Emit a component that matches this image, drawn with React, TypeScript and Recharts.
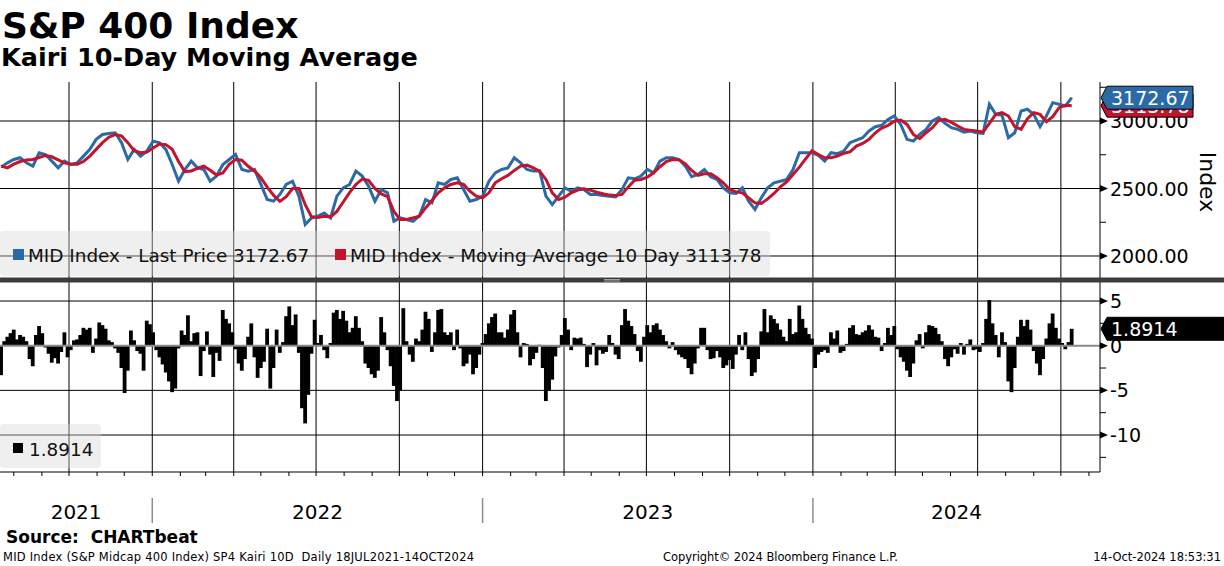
import React from 'react';
import { LineChart, Line, XAxis, YAxis, ReferenceLine, ComposedChart, Bar } from 'recharts';

// ---------- DATA (weekly closes from 18 Jul 2021, index = week number) ----------
const lastPriceWeekly: number[] = [
  2660, 2690, 2715, 2728, 2690, 2666, 2765, 2752, 2703, 2653,
  2703, 2678, 2690, 2740, 2790, 2864, 2900, 2908, 2913, 2839,
  2715, 2790, 2740, 2777, 2851, 2839, 2790, 2678, 2554, 2641,
  2703, 2653, 2641, 2554, 2592, 2678, 2715, 2752, 2641, 2629,
  2641, 2530, 2418, 2406, 2456, 2530, 2554, 2443, 2233, 2282,
  2295, 2319, 2282, 2443, 2505, 2530, 2629, 2592, 2517, 2406,
  2493, 2468, 2258,
  2282, 2270, 2257, 2295, 2418, 2394, 2542, 2530, 2567, 2579,
  2493, 2406, 2418, 2443, 2554, 2616, 2641, 2653, 2728, 2690,
  2641, 2629, 2629, 2443, 2381, 2443, 2505, 2480, 2505, 2493,
  2456, 2456, 2448, 2443, 2438, 2493, 2579, 2572, 2592, 2641,
  2616, 2703, 2728, 2728, 2715, 2666, 2587, 2604, 2641, 2587,
  2567, 2505, 2468, 2463, 2505, 2406, 2344, 2431, 2505, 2542,
  2554, 2567, 2641, 2765,
  2765, 2765, 2745, 2703, 2765, 2758, 2777, 2839, 2859, 2876,
  2926, 2958, 2968, 3012, 3037, 2975, 2864, 2851, 2901, 2938,
  3000, 3025, 2983, 2951, 2938, 2918, 2926, 2913, 2908, 3124,
  3049, 3042, 2876, 2913, 3074, 3087, 3049, 2958, 3037, 3136,
  3124, 3111, 3172.67,
];

const movingAvg10Weekly: number[] = [
  2666, 2653, 2680, 2700, 2712, 2715, 2730, 2745, 2735, 2712,
  2690, 2680, 2680, 2700, 2740, 2790, 2840, 2880, 2900, 2890,
  2840, 2780, 2765, 2770, 2800, 2830, 2825, 2790, 2700, 2625,
  2630, 2650, 2665, 2635, 2600, 2615, 2680, 2715, 2710, 2665,
  2630, 2580, 2510, 2450, 2405, 2440, 2500, 2500, 2380, 2290,
  2285, 2295, 2290, 2330, 2400, 2470, 2530, 2570, 2560, 2500,
  2460, 2440, 2330,
  2270, 2270, 2282, 2295, 2356, 2411, 2468, 2505, 2530, 2542,
  2530, 2480, 2443, 2431, 2468, 2542, 2572, 2597, 2634, 2666,
  2673, 2653, 2629, 2567, 2468, 2418, 2436, 2468, 2488, 2498,
  2488, 2473, 2461, 2451, 2448, 2456, 2512, 2562, 2567, 2584,
  2616, 2661, 2700, 2715, 2713, 2683, 2634, 2597, 2609, 2609,
  2579, 2542, 2493, 2475, 2468, 2431, 2394, 2389, 2423, 2463,
  2512, 2549, 2604, 2658,
  2720, 2780, 2752, 2728, 2728, 2740, 2760, 2772, 2814, 2834,
  2864, 2913, 2948, 2968, 2998, 3007, 2975, 2901, 2869, 2913,
  2951, 3005, 3012, 2990, 2963, 2938, 2931, 2926, 2918, 2983,
  3049, 3062, 3037, 2958, 2938, 3017, 3062, 3049, 2995, 3032,
  3099, 3116, 3113.78,
];

// Kairi 10D, sampled twice a week (index/2 = week number)
const kairiHalfWeekly: number[] = [
  -3.3, 0.5, 1.0, 1.4, 1.8, 0.7, 1.2, 1.0, 0.5, -1.5,
  -2.3, 1.2, 2.2, 1.4, -0.2, -0.9, -1.9, -1.4, -2.0, -0.7,
  1.5, -1.3, -0.5, 0.6, 0.7, 1.2, 2.0, 1.8, 2.0, -0.8,
  0.8, 2.6, 2.3, 1.9, 0.6, 0.4, -0.3, -0.8, -2.5, -5.3,
  -2.8, 1.7, 0.6, -0.6, -0.9, -2.8, 2.8, 2.4, 1.5, -0.5,
  -1.3, -2.1, -3.0, -4.0, -5.2, -4.8, -0.3, 1.7, 1.2, 3.4,
  0.5, 1.4, 1.5, -3.4, -0.6, 1.6, -1.0, -3.5, -0.8, -1.7,
  4.0, 3.0, 2.5, 1.5, -0.4, -2.0, -2.8, -1.5, 1.0, 2.5,
  -1.3, -3.6, -2.5, -1.8, 1.9, -4.8, -2.5, 1.8, -0.8, 0.4,
  3.3, 4.4, 2.3, 3.5, -0.8, -7.0, -8.7, -5.5, -0.9, 2.9,
  0.3, 1.2, -0.5, -1.4, 0.3, 3.7, 4.0, 3.0, 3.9, 2.8,
  1.5, 2.0, 3.3, 2.0, 0.5, -2.0, -2.5, -3.2, -3.6, -2.8,
  3.2, 1.5, -0.5, -2.3, -4.5, -6.2, -5.0,
  4.2, 0.5, -1.0, -1.8, 0.8, 0.5, 1.8, 3.8, 3.0, -0.7,
  1.5, 4.0, 4.1, 1.5, 1.2, 1.5, -0.5, 1.8, -0.3, -2.3,
  -2.0, -1.0, -3.2, -2.5, -1.0, 0.3, 1.3, 2.5, 3.2, 3.6,
  1.5, 1.5, 0.9, 1.8, 3.5, 4.0, 1.5, -1.3, 0.3, 0.2,
  -2.2, -1.5, -0.8, 0.1, -2.5, -6.2, -5.0, -3.8, -1.2, -0.2,
  1.2, 3.1, 1.8, -0.5, 0.9, 0.8, 0.9, 0.2, -2.4, -1.0,
  0.3, -2.2, -0.5, -0.9, -0.7, 1.2, 0.3, -1.0, -1.5, 2.3,
  4.1, 2.8, 2.2, 1.3, -0.6, -1.8, 1.0, 2.3, 1.5, 2.3,
  2.5, 1.8, 1.2, 0.5, -0.3, 0.4, -0.5, -1.0, -1.3, -1.5,
  -2.5, -3.2, -2.0, -0.3, 2.0, 2.0, -0.5, -1.5, -1.4, -0.6,
  -1.3, -2.5, -2.2, -1.6, -2.6, -1.0, 1.2, -0.5, 1.5, -1.5,
  -3.4, -3.0, -1.5, 1.6, 4.1, 1.5, 3.4, 3.0, 2.5, 1.8,
  1.0, 0.5, 3.0, 1.3, 1.5, 4.5,
  3.0, 2.0, 1.3, 0.8, -2.5, -1.0, -0.7, -0.5, -0.8, 1.5,
  0.8, 1.7, -0.8, -0.6, 0.2, 2.0, 2.3, 1.3, 1.2, 1.5,
  1.7, 2.3, 1.8, 1.0, 0.9, -0.6, 0.3, 2.0, 1.2, 2.2,
  -0.4, -1.3, -1.8, -2.8, -3.5, -2.0, 0.6, 1.3, -0.3, 1.5,
  2.3, 2.2, 2.0, 1.3, 0.5, -1.5, -2.3, -1.3, -0.4, -0.9,
  0.3, -1.0, 0.2, 0.7, -0.5, -0.4, -0.7, 0.3, 3.0, 5.1,
  2.5, 1.2, -1.3, 1.5, 0.4, -4.0, -5.2, -2.5, 1.0, 2.9,
  2.2, 2.9, 1.8, -0.6, -2.0, -3.3, -1.5, 0.8, 2.5, 3.6,
  2.0, 0.8, 0.3, -0.4, 0.4, 1.8914,
];

const LAST_PRICE = 3172.67;
const LAST_MA = 3113.78;
const LAST_KAIRI = 1.8914;

const priceMajorTicks = [2000, 2500, 3000];
const priceMinorTicks = [2250, 2750, 3250];
const kairiMajorTicks = [-10, -5, 0, 5];
const kairiMinorTicks = [-12.5, -7.5, -2.5, 2.5];

const quarterStarts: [number, number][] = [
  [2021, 10], [2022, 1], [2022, 4], [2022, 7], [2022, 10], [2023, 1], [2023, 4],
  [2023, 7], [2023, 10], [2024, 1], [2024, 4], [2024, 7], [2024, 10],
];
const yearLabels = ['2021', '2022', '2023', '2024'];
const yearStarts: [number, number][] = [[2022, 1], [2023, 1], [2024, 1]];

const legendPrice = 'MID Index - Last Price 3172.67';
const legendMA = 'MID Index - Moving Average 10 Day 3113.78';

// ---------- helpers ----------
const START = Date.UTC(2021, 6, 18);
const WEEK_MS = 7 * 86400000;
const toWeek = (y: number, m: number) => (Date.UTC(y, m - 1, 1) - START) / WEEK_MS;

const X_DOMAIN: [number, number] = [-0.18, 173.46];
const PLOT_W = 1100;
const xPix = (w: number) => ((w - X_DOMAIN[0]) / (X_DOMAIN[1] - X_DOMAIN[0])) * PLOT_W;

const quarterWeeks = quarterStarts.map(([y, m]) => toWeek(y, m));
const monthWeeks: number[] = [];
for (let y = 2021; y <= 2024; y++) {
  for (let m = 1; m <= 12; m++) {
    const w = toWeek(y, m);
    if (w > X_DOMAIN[0] && w < X_DOMAIN[1]) monthWeeks.push(w);
  }
}
const yearStartWeeks = yearStarts.map(([y, m]) => toWeek(y, m));
const yearBounds = [X_DOMAIN[0], ...yearStartWeeks, X_DOMAIN[1]];

const priceData = lastPriceWeekly.map((p, i) => ({ w: i, price: p, ma: movingAvg10Weekly[i] }));
const kairiData = kairiHalfWeekly.map((k, i) => ({ w: i / 2, k }));

const BLUE = '#2c69a7';
const RED = '#c3142e';
const FONT = '"DejaVu Sans", Verdana, sans-serif';

function Tag({ x, y, fill, text, w }: { x: number; y: number; fill: string; text: string; w: number }) {
  const h = 11.5;
  return (
    <g>
      <path
        d={`M${x + 1},${y} L${x + 7},${y - h} L${x + w},${y - h} L${x + w},${y + h} L${x + 7},${y + h} Z`}
        fill={fill}
        stroke="#000"
        strokeWidth={1}
      />
      <text x={x + 11} y={y + 7} fill="#fff" fontSize={19} fontFamily={FONT}>
        {text}
      </text>
    </g>
  );
}

function priceTick(props: any) {
  const { x, y, payload } = props;
  const v = payload.value;
  if (v === LAST_MA) return <Tag x={x} y={y} fill={RED} text={v.toFixed(2)} w={93} />;
  if (v === LAST_PRICE) return <Tag x={x} y={y} fill={BLUE} text={v.toFixed(2)} w={93} />;
  if (priceMinorTicks.includes(v)) return <line x1={x} x2={x + 6} y1={y} y2={y} stroke="#000" strokeWidth={1} />;
  return (
    <g>
      <path d={`M${x},${y - 3.5} L${x + 8},${y} L${x},${y + 3.5} Z`} fill="#000" />
      <text x={x + 10} y={y + 7} fontSize={19} fontFamily={FONT} fill="#000">
        {v.toFixed(2)}
      </text>
    </g>
  );
}

function kairiTick(props: any) {
  const { x, y, payload } = props;
  const v = payload.value;
  if (v === LAST_KAIRI) return <Tag x={x} y={y} fill="#000" text={String(v)} w={124} />;
  if (kairiMinorTicks.includes(v)) return <line x1={x} x2={x + 6} y1={y} y2={y} stroke="#000" strokeWidth={1} />;
  return (
    <g>
      <path d={`M${x},${y - 3.5} L${x + 8},${y} L${x},${y + 3.5} Z`} fill="#000" />
      <text x={x + 10} y={y + 7} fontSize={19} fontFamily={FONT} fill="#000">
        {String(v)}
      </text>
    </g>
  );
}

function KairiBar(props: any) {
  const { x, y, width, height } = props;
  if (x == null || y == null || height == null) return <g />;
  const top = Math.min(y, y + height);
  const h = Math.abs(height);
  const cx = x + (width || 0) / 2;
  return <rect x={cx - 1.9} y={top} width={3.8} height={h} fill="#000" />;
}

export default function App() {
  return (
    <div
      style={{
        position: 'absolute',
        left: 0,
        top: 0,
        width: 1224,
        height: 566,
        background: '#fff',
        overflow: 'hidden',
        fontFamily: FONT,
      }}
    >
      <div style={{ position: 'absolute', left: 0, top: 82 }}>
        <LineChart width={1224} height={196} data={priceData} margin={{ top: 0, right: 0, bottom: 0, left: 0 }}>
          <XAxis type="number" dataKey="w" domain={X_DOMAIN} hide allowDataOverflow />
          <YAxis
            type="number"
            orientation="right"
            width={124}
            domain={[1837, 3289]}
            allowDataOverflow
            ticks={[...priceMinorTicks, ...priceMajorTicks, LAST_MA, LAST_PRICE]}
            interval={0}
            tickLine={false}
            tickSize={0}
            tickMargin={0}
            axisLine={{ stroke: '#000', strokeWidth: 1 }}
            tick={priceTick}
          />
          {quarterWeeks.map((q) => (
            <ReferenceLine key={'q' + q} x={q} stroke="#000" strokeWidth={1} />
          ))}
          {priceMajorTicks.map((v) => (
            <ReferenceLine key={'h' + v} y={v} stroke="#000" strokeWidth={1} />
          ))}
          <Line dataKey="price" stroke={BLUE} strokeWidth={3} dot={false} isAnimationActive={false} type="linear" />
          <Line dataKey="ma" stroke={RED} strokeWidth={3} dot={false} isAnimationActive={false} type="linear" />
        </LineChart>
      </div>

      <div style={{ position: 'absolute', left: 0, top: 282 }}>
        <ComposedChart
          width={1224}
          height={200}
          data={kairiData}
          margin={{ top: 0, right: 0, bottom: 0, left: 0 }}
          barCategoryGap={0}
          barGap={0}
        >
          <XAxis
            type="number"
            dataKey="w"
            domain={X_DOMAIN}
            allowDataOverflow
            ticks={monthWeeks}
            interval={0}
            height={10}
            tickSize={4}
            tick={() => <g />}
            axisLine={{ stroke: '#000', strokeWidth: 1 }}
            tickLine={{ stroke: '#000', strokeWidth: 1 }}
          />
          <YAxis
            type="number"
            orientation="right"
            width={124}
            domain={[-14.14, 7.13]}
            allowDataOverflow
            ticks={[...kairiMinorTicks, ...kairiMajorTicks, LAST_KAIRI]}
            interval={0}
            tickLine={false}
            tickSize={0}
            tickMargin={0}
            axisLine={{ stroke: '#000', strokeWidth: 1 }}
            tick={kairiTick}
          />
          {quarterWeeks.map((q) => (
            <ReferenceLine key={'q' + q} x={q} stroke="#000" strokeWidth={1} />
          ))}
          {kairiMajorTicks
            .filter((v) => v !== 0)
            .map((v) => (
              <ReferenceLine key={'h' + v} y={v} stroke="#000" strokeWidth={1} />
            ))}
          <Bar dataKey="k" fill="#000" shape={KairiBar} isAnimationActive={false} />
          <ReferenceLine y={0} stroke="#8a8a8a" strokeWidth={2} />
        </ComposedChart>
      </div>

      <svg
        width={1224}
        height={566}
        style={{ position: 'absolute', left: 0, top: 0, pointerEvents: 'none' }}
        fontFamily={FONT}
      >
        <text x={2} y={38} fontSize={36} fontWeight="bold" fill="#000">
          S&amp;P 400 Index
        </text>
        <text x={1} y={66} fontSize={25.5} fontWeight="bold" fill="#000">
          Kairi 10-Day Moving Average
        </text>

        {/* top legend */}
        <rect x={0} y={231} width={770} height={45} rx={4} fill="#d8d8d8" fillOpacity={0.4} />
        <rect x={13} y={249} width={11} height={11} fill={BLUE} />
        <text x={28} y={262} fontSize={18.4} fill="#111">
          {legendPrice}
        </text>
        <rect x={335} y={249} width={11} height={11} fill={RED} />
        <text x={350} y={262} fontSize={18.4} fill="#111">
          {legendMA}
        </text>

        {/* separator band */}
        <rect x={0} y={277.5} width={1224} height={5} fill="#3c3c3c" />
        <line x1={604} x2={620} y1={279.5} y2={279.5} stroke="#bbb" strokeWidth={0.8} />
        <line x1={604} x2={620} y1={281} y2={281} stroke="#bbb" strokeWidth={0.8} />

        {/* bottom legend */}
        <rect x={0} y={424} width={101} height={44} rx={4} fill="#d8d8d8" fillOpacity={0.4} />
        <rect x={13} y={443} width={10} height={10} fill="#000" />
        <text x={29} y={456} fontSize={18.4} fill="#111">
          {String(LAST_KAIRI)}
        </text>

        {/* axis title */}
        <text x={0} y={0} fontSize={22} fill="#000" textAnchor="middle" transform="translate(1200,182) rotate(90)">
          Index
        </text>

        {/* years */}
        {yearStartWeeks.map((w) => (
          <line key={'ys' + w} x1={xPix(w)} x2={xPix(w)} y1={498} y2={523} stroke="#8c8c8c" strokeWidth={1.5} />
        ))}
        {yearLabels.map((lab, i) => (
          <text
            key={lab}
            x={(xPix(yearBounds[i]) + xPix(yearBounds[i + 1])) / 2}
            y={519}
            fontSize={20}
            textAnchor="middle"
            fill="#000"
          >
            {lab}
          </text>
        ))}

        {/* footer */}
        <text x={6} y={543} fontSize={17} fontWeight="bold" fill="#000" style={{ whiteSpace: 'pre' }}>
          {'Source:  CHARTbeat'}
        </text>
        <text x={3} y={561} fontSize={11.5} fill="#000" textLength={471} lengthAdjust="spacing" style={{ whiteSpace: 'pre' }}>
          {'MID Index (S&P Midcap 400 Index) SP4 Kairi 10D  Daily 18JUL2021-14OCT2024'}
        </text>
        <text x={663} y={561} fontSize={11.5} fill="#000" textLength={235} lengthAdjust="spacing">
          {'Copyright\u00a9 2024 Bloomberg Finance L.P.'}
        </text>
        <text x={1221} y={561} fontSize={11.5} fill="#000" textAnchor="end">
          {'14-Oct-2024 18:53:31'}
        </text>
      </svg>
    </div>
  );
}
